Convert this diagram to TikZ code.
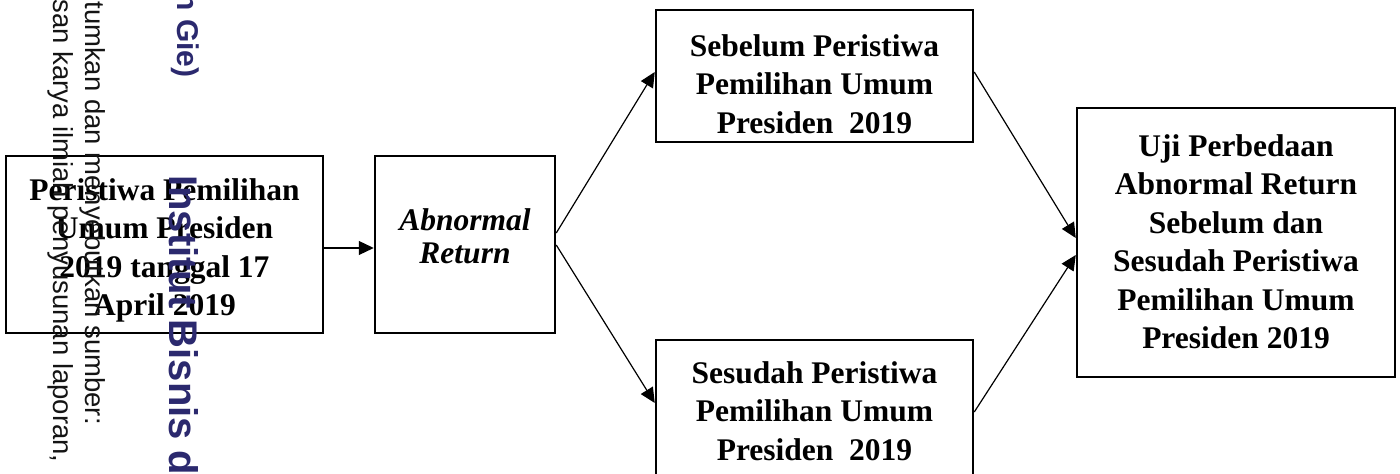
\documentclass[tikz,border=0pt]{standalone}
\usepackage{fontspec}
\setmainfont{Liberation Serif}
\newfontfamily\wmsans{Liberation Sans}
\usetikzlibrary{arrows.meta,calc}
\definecolor{wmblue}{RGB}{43,41,110}
\begin{document}
\begin{tikzpicture}[x=0.5pt,y=-0.5pt,
  box/.style={draw, line width=1.25pt, inner sep=0pt},
  lbl/.style={font=\bfseries\fontsize{15.75pt}{19.25pt}\selectfont, align=center, inner sep=0pt},
  conn/.style={line width=0.6pt, -{Triangle[length=7.5pt,width=7pt]}},
  wm/.style={rotate=-90, anchor=base west, inner sep=0pt, font=\wmsans\fontsize{13.75pt}{15pt}\selectfont, text=black!92},
  wmb/.style={rotate=-90, anchor=base west, inner sep=0pt, text=wmblue}]
\useasboundingbox (0,0) rectangle (1400,474);
\clip (0,0) rectangle (1400,474);
\fill[white] (0,0) rectangle (1400,474);

% boxes
\node[box, minimum width=158.5pt, minimum height=88.5pt] (b1) at (164.5,244.5) {};
\node[lbl] (t1) at (164.5,250.5) {Peristiwa Pemilihan\\Umum Presiden\\2019 tanggal 17\\April 2019};

\node[box, minimum width=90pt, minimum height=88.5pt] (b2) at (465,244.5) {};
\node[lbl, font=\bfseries\itshape\fontsize{15.75pt}{16.5pt}\selectfont] (t2) at (465,236) {Abnormal\\Return};

\node[box, minimum width=158.5pt, minimum height=66pt] (b3) at (814.5,76) {};
\node[lbl] (t3) at (814.5,84) {Sebelum Peristiwa\\Pemilihan Umum\\Presiden~~2019};

\node[box, minimum width=158.5pt, minimum height=70pt] (b4) at (814.5,410) {};
\node[lbl] (t4) at (814.5,411) {Sesudah Peristiwa\\Pemilihan Umum\\Presiden~~2019};

\node[box, minimum width=159pt, minimum height=134.5pt] (b5) at (1236,242.5) {};
\node[lbl] (t5) at (1236,241.5) {Uji Perbedaan\\Abnormal Return\\Sebelum dan\\Sesudah Peristiwa\\Pemilihan Umum\\Presiden 2019};

% connectors
\draw[conn] ($(b1.east)+(0,3.5)$) -- ($(b2.west)+(0,3.5)$);
\draw[conn] ($(b2.east)+(0,-11.5)$) -- ($(b3.west)+(0,-4)$);
\draw[conn] ($(b2.east)+(0,0.5)$) -- ($(b4.west)+(0,-7)$);
\draw[conn] ($(b3.east)+(0,-4)$) -- ($(b5.west)+(0,-4.5)$);
\draw[conn] ($(b4.east)+(0,2)$) -- ($(b5.west)+(0,12.5)$);

% watermark
\node[wm] (w1) at (85,1) {tumkan dan menyebutkan sumber:};
\node[wm] (w2) at (53,-1) {san karya ilmiah penyusunan laporan,};
\node[wmb, font=\wmsans\bfseries\fontsize{15pt}{17pt}\selectfont] (w3) at (177,-8) {n Gie)};
\node[wmb, font=\wmsans\bfseries\fontsize{20pt}{22pt}\selectfont] (w4) at (169,175) {Institut Bisnis da};
\end{tikzpicture}
\end{document}
